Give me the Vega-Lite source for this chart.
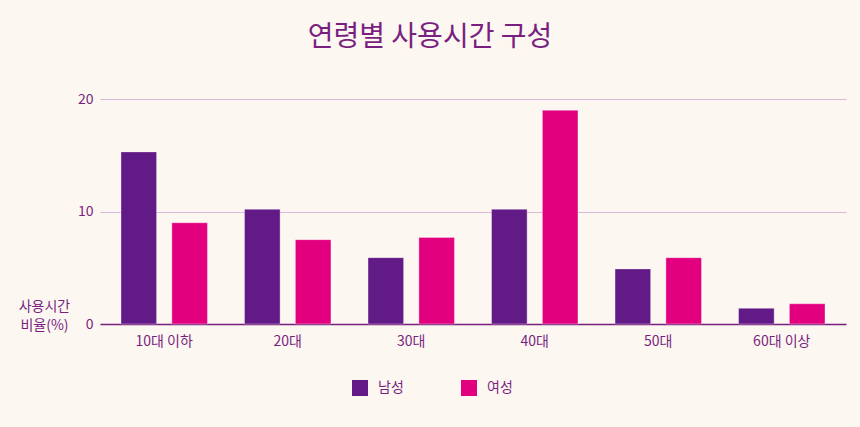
{
  "$schema": "https://vega.github.io/schema/vega-lite/v6.json",
  "width": 746,
  "height": 225,
  "autosize": {"type": "none"},
  "padding": {"left": 100, "top": 99, "right": 14, "bottom": 103},
  "background": "#fcf7f1",
  "title": {
    "text": "연령별 사용시간 구성",
    "anchor": "middle",
    "dx": -43,
    "offset": 40,
    "fontSize": 28,
    "fontWeight": "normal",
    "font": "Noto Sans CJK KR",
    "color": "#7a1f80"
  },
  "data": {
    "values": [
      {"age": "10대 이하", "gender": "남성", "value": 15.3},
      {"age": "10대 이하", "gender": "여성", "value": 9.0},
      {"age": "20대", "gender": "남성", "value": 10.2},
      {"age": "20대", "gender": "여성", "value": 7.5},
      {"age": "30대", "gender": "남성", "value": 5.9},
      {"age": "30대", "gender": "여성", "value": 7.7},
      {"age": "40대", "gender": "남성", "value": 10.2},
      {"age": "40대", "gender": "여성", "value": 19.0},
      {"age": "50대", "gender": "남성", "value": 4.9},
      {"age": "50대", "gender": "여성", "value": 5.9},
      {"age": "60대 이상", "gender": "남성", "value": 1.4},
      {"age": "60대 이상", "gender": "여성", "value": 1.8}
    ]
  },
  "config": {
    "view": {"stroke": null},
    "font": "Noto Sans CJK KR"
  },
  "mark": {"type": "bar", "stroke": "#ffffff", "strokeOpacity": 0.35, "strokeWidth": 1},
  "encoding": {
    "x": {
      "field": "age",
      "type": "nominal",
      "sort": null,
      "scale": {"paddingInner": 0.3, "paddingOuter": 0.17},
      "axis": {
        "title": null,
        "labelAngle": 0,
        "labelFontSize": 14,
        "labelColor": "#7a1f80",
        "labelPadding": 10,
        "ticks": false,
        "domainColor": "#7a1f80",
        "domainWidth": 1.5,
        "labelFont": "Noto Sans CJK KR"
      }
    },
    "xOffset": {
      "field": "gender",
      "type": "nominal",
      "scale": {"paddingInner": 0.3, "paddingOuter": 0}
    },
    "y": {
      "field": "value",
      "type": "quantitative",
      "scale": {"domain": [0, 20], "nice": false},
      "axis": {
        "values": [0, 10, 20],
        "title": ["사용시간", "비율(%)"],
        "titleAngle": 0,
        "titleAlign": "center",
        "titleBaseline": "bottom",
        "titleX": -56,
        "titleY": 214,
        "titleFontSize": 14,
        "titleFontWeight": "normal",
        "titleColor": "#7a1f80",
        "titleLineHeight": 19,
        "titleFont": "Noto Sans CJK KR",
        "labelFontSize": 14,
        "labelColor": "#7a1f80",
        "labelPadding": 7,
        "labelFont": "Noto Sans CJK KR",
        "ticks": false,
        "domain": false,
        "gridColor": "#dcb6dc",
        "gridWidth": 1
      }
    },
    "color": {
      "field": "gender",
      "type": "nominal",
      "scale": {"domain": ["남성", "여성"], "range": ["#621a86", "#e3007f"]},
      "legend": {
        "title": null,
        "orient": "none",
        "direction": "horizontal",
        "legendX": 252,
        "legendY": 281,
        "symbolType": "square",
        "symbolSize": 256,
        "symbolStrokeWidth": 0,
        "symbolOpacity": 1,
        "labelFontSize": 14,
        "labelColor": "#7a1f80",
        "labelOffset": 10,
        "columnPadding": 57,
        "labelFont": "Noto Sans CJK KR"
      }
    }
  }
}
